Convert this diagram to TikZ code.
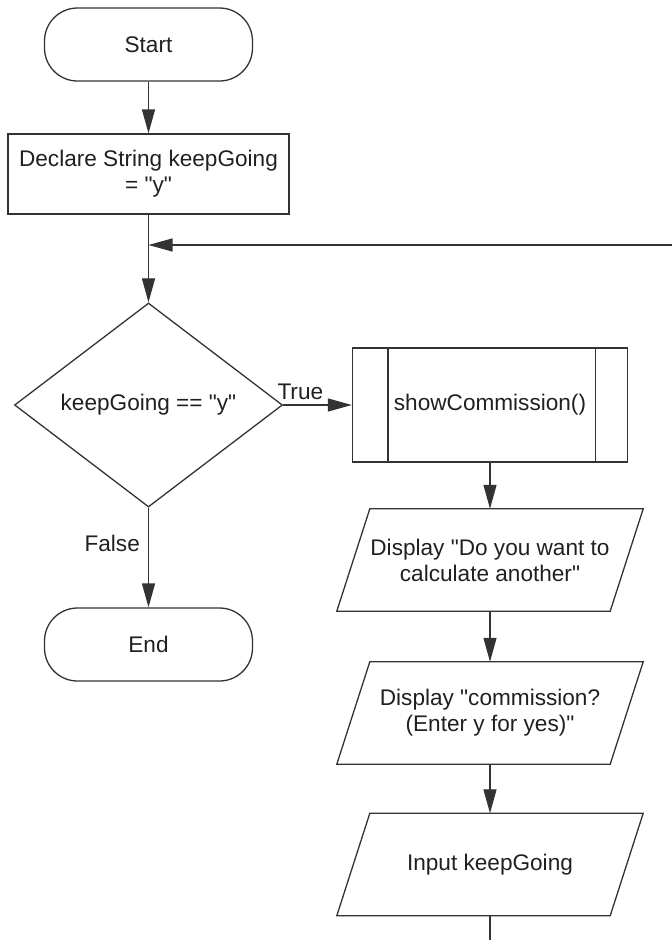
\documentclass[tikz,border=0pt]{standalone}
\usepackage{fontspec}
\setmainfont{Liberation Sans}[Ligatures=TeXOff]
\usetikzlibrary{shapes.geometric,arrows.meta}
\definecolor{ln}{HTML}{333333}
\definecolor{tx}{HTML}{231F20}
\begin{document}
\begin{tikzpicture}[x=1pt,y=-1pt,
  every node/.style={font=\fontsize{22.6}{26}\selectfont, text=tx},
  base/.style={draw=ln, line width=1.3pt, inner sep=0pt, align=center},
  term/.style={base, rectangle, rounded corners=33pt, minimum width=208pt, minimum height=73pt},
  procbox/.style={base, rectangle, minimum width=281pt, minimum height=80pt},
  decision/.style={base, diamond, minimum width=268pt, minimum height=204pt},
  predef/.style={base, rectangle, minimum width=275pt, minimum height=114pt},
  iobox/.style={inner sep=0pt, align=center, minimum width=273pt, minimum height=102pt},
  edge/.style={draw=ln, line width=1.3pt},
  flow/.style={edge, -{Triangle[length=24pt,width=13pt]}},
  lbl/.style={inner sep=0pt}
]
\useasboundingbox (0,0) rectangle (672,940);

\node[term] (start) at (148.5,44.5) {Start};
\node[procbox] (decl) at (148.5,174) {Declare String keepGoing\\= "y"};
\node[decision] (dec) at (148.5,405) {keepGoing == "y"};
\node[term] (end) at (148.5,644.5) {End};
\node[predef] (show) at (490,405) {showCommission()};
\node[iobox] (d1) at (490,560) {Display "Do you want to\\calculate another"};
\node[iobox] (d2) at (490,713) {Display "commission?\\(Enter y for yes)"};
\node[iobox] (inp) at (490,864.5) {Input keepGoing};

% predefined process inner bars
\draw[edge] ([xshift=36pt]show.north west) -- ([xshift=36pt]show.south west);
\draw[edge] ([xshift=-33pt]show.north east) -- ([xshift=-33pt]show.south east);

% parallelograms
\foreach \n in {d1,d2,inp}
  \draw[edge] ([xshift=16.5pt]\n.north west) -- ([xshift=16.5pt]\n.north east)
     -- ([xshift=-16.5pt]\n.south east) -- ([xshift=-16.5pt]\n.south west) -- cycle;

\coordinate (j) at (148.5,245);
\coordinate (loopR) at (672,245);
\coordinate (bot) at (490,940);

\draw[flow] (start) -- (decl);
\draw[flow] (decl) -- (dec);
\draw[flow] (loopR) -- (j);
\draw[flow] (dec.east) -- node[lbl, above=5pt, pos=0.25] {True} (show.west);
\draw[flow] (dec.south) -- node[lbl, left=8pt, pos=0.36] {False} (end.north);
\draw[flow] (show) -- (d1);
\draw[flow] (d1) -- (d2);
\draw[flow] (d2) -- (inp);
\draw[edge] (inp.south) -- (bot);
\end{tikzpicture}
\end{document}
